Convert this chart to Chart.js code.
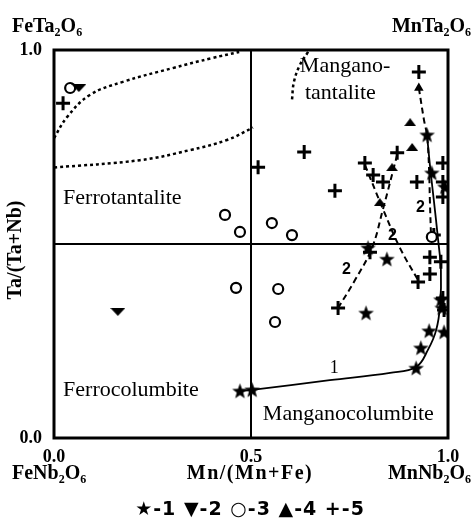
<!DOCTYPE html>
<html>
<head>
<meta charset="utf-8">
<script src="https://cdn.jsdelivr.net/npm/chart.js@4"></script>
<style>
  body { margin: 0; background: #fff; }
</style>
</head>
<body>
<canvas id="c" width="471" height="522"></canvas>
<script>
// points: [Mn/(Mn+Fe), Ta/(Ta+Nb)]
const stars = [
  [0.472, 0.121], [0.503, 0.124], [0.797, 0.490], [0.845, 0.461], [0.792, 0.322],
  [0.919, 0.180], [0.931, 0.232], [0.952, 0.276], [0.990, 0.273], [0.985, 0.335],
  [0.982, 0.356], [0.947, 0.781], [0.959, 0.683], [0.992, 0.647]
];
const downTris = [[0.063, 0.902], [0.162, 0.325]];
const circles = [
  [0.041, 0.902], [0.434, 0.575], [0.472, 0.531], [0.553, 0.554], [0.604, 0.523],
  [0.462, 0.387], [0.569, 0.384], [0.561, 0.299], [0.959, 0.518]
];
const upTris = [[0.904, 0.814], [0.909, 0.750], [0.858, 0.698], [0.827, 0.608]];
const crosses = [
  [0.023, 0.863], [0.518, 0.698], [0.635, 0.737], [0.713, 0.637], [0.926, 0.943],
  [0.871, 0.735], [0.789, 0.709], [0.810, 0.678], [0.835, 0.660], [0.921, 0.660],
  [0.987, 0.709], [0.987, 0.660], [0.987, 0.621], [0.802, 0.479], [0.721, 0.335],
  [0.924, 0.402], [0.954, 0.466], [0.954, 0.423], [0.982, 0.454], [0.987, 0.361],
  [0.990, 0.330], [0.964, 0.523]
];

// trend lines
const line1 = [
  [0.472, 0.121], [0.503, 0.124], [0.700, 0.149], [0.853, 0.168], [0.919, 0.183],
  [0.949, 0.227], [0.970, 0.278], [0.980, 0.343], [0.982, 0.433], [0.975, 0.510],
  [0.964, 0.613], [0.954, 0.704], [0.947, 0.778]
];
const line2right = [[0.926, 0.902], [0.939, 0.820], [0.947, 0.778], [0.952, 0.691], [0.954, 0.613], [0.957, 0.518]];
const line2a = [[0.789, 0.704], [0.835, 0.590], [0.878, 0.490], [0.924, 0.407]];
const line2b = [[0.871, 0.730], [0.835, 0.590], [0.807, 0.490], [0.764, 0.407], [0.721, 0.335]];

// field boundaries
const ellipseTop = [[0, 0.773], [0.033, 0.827], [0.091, 0.884], [0.175, 0.918], [0.30, 0.953], [0.40, 0.979], [0.47, 0.995]];
const ellipseBottom = [[0, 0.697], [0.218, 0.716], [0.345, 0.742], [0.439, 0.768], [0.505, 0.800]];
const mnTaCurve = [[0.645, 0.995], [0.624, 0.961], [0.609, 0.918], [0.604, 0.871]];
const midX = [[0.5, 0], [0.5, 1]];
const midY = [[0, 0.5], [1, 0.5]];

const xTicks = [0, 0.5, 1];
const yTicks = [0, 1];

const pts = arr => arr.map(([x, y]) => ({ x, y }));

// custom marker shapes
function marker(w, h, draw) {
  const c = document.createElement('canvas');
  c.width = w; c.height = h;
  const g = c.getContext('2d');
  g.fillStyle = '#000';
  draw(g, w, h);
  return c;
}
const starImg = marker(17, 17, (g) => {
  g.beginPath();
  for (let i = 0; i < 10; i++) {
    const r = i % 2 ? 3.4 : 8.2;
    const a = -Math.PI / 2 + i * Math.PI / 5;
    g.lineTo(8.5 + r * Math.cos(a), 9 + r * Math.sin(a));
  }
  g.closePath(); g.fill();
});
const downImg = marker(15, 8, (g) => {
  g.beginPath(); g.moveTo(0, 0); g.lineTo(15, 0); g.lineTo(7.5, 8); g.closePath(); g.fill();
});
const upImg = marker(12, 8, (g) => {
  g.beginPath(); g.moveTo(0, 8); g.lineTo(12, 8); g.lineTo(6, 0); g.closePath(); g.fill();
});

const lineSet = (data, extra) => Object.assign({
  type: 'line', data: pts(data), borderColor: '#000', borderWidth: 2,
  pointRadius: 0, fill: false, tension: 0.4, order: 10
}, extra);

const serif = '"Liberation Serif", "Times New Roman", serif';

function subText(ctx, parts, x, y, align, spacing) {
  const big = 'bold 20px ' + serif, small = 'bold 12px ' + serif;
  ctx.letterSpacing = (spacing || 0) + 'px';
  let w = 0;
  parts.forEach(([t, s]) => { ctx.font = s ? small : big; w += ctx.measureText(t).width; });
  let cx = align === 'right' ? x - w : align === 'center' ? x - w / 2 : x;
  ctx.textAlign = 'left';
  ctx.textBaseline = 'middle';
  parts.forEach(([t, s]) => {
    ctx.font = s ? small : big;
    ctx.fillText(t, cx, s ? y + 6 : y);
    cx += ctx.measureText(t).width;
  });
  ctx.letterSpacing = '0px';
}

const textPlugin = {
  id: 'texts',
  afterDraw(chart) {
    const { ctx, chartArea: a, scales: { x, y } } = chart;
    ctx.save();
    ctx.strokeStyle = '#000';
    ctx.lineWidth = 3;
    ctx.strokeRect(a.left, a.top, a.right - a.left, a.bottom - a.top);

    ctx.fillStyle = '#000';
    ctx.textBaseline = 'middle';
    ctx.textAlign = 'left';
    ctx.font = '22px ' + serif;
    const at = (t, vx, vy) => ctx.fillText(t, x.getPixelForValue(vx), y.getPixelForValue(vy));
    at('Mangano-', 0.624, 0.959);
    at('tantalite', 0.637, 0.889);
    at('Ferrotantalite', 0.023, 0.619);
    at('Ferrocolumbite', 0.023, 0.124);
    at('Manganocolumbite', 0.530, 0.062);
    ctx.font = '18px ' + serif;
    at('1', 0.700, 0.180);
    ctx.font = 'bold 16px "Liberation Sans", Arial, sans-serif';
    at('2', 0.731, 0.433);
    at('2', 0.848, 0.521);
    at('2', 0.919, 0.593);

    subText(ctx, [['FeTa', 0], ['2', 1], ['O', 0], ['6', 1]], 12, 27, 'left');
    subText(ctx, [['MnTa', 0], ['2', 1], ['O', 0], ['6', 1]], 471, 27, 'right');
    subText(ctx, [['FeNb', 0], ['2', 1], ['O', 0], ['6', 1]], 12, 474, 'left');
    subText(ctx, [['MnNb', 0], ['2', 1], ['O', 0], ['6', 1]], 471, 474, 'right');
    subText(ctx, [['Mn/(Mn+Fe)', 0]], 250, 474, 'center', 1.5);
    ctx.save();
    ctx.translate(16, 250);
    ctx.rotate(-Math.PI / 2);
    subText(ctx, [['Ta/(Ta+Nb)', 0]], 0, 0, 'center');
    ctx.restore();

    ctx.font = 'bold 19px "DejaVu Sans", sans-serif';
    ctx.letterSpacing = '1px';
    ctx.textAlign = 'center';
    ctx.fillText('\u2605-1 \u25BC-2 \u25CB-3 \u25B2-4 +-5', 250, 510);
    ctx.restore();
  }
};

const tickFont = { family: serif, size: 18, weight: 'bold' };
const noGrid = { display: false, drawTicks: false, tickLength: 0 };

new Chart(document.getElementById('c'), {
  type: 'scatter',
  data: {
    datasets: [
      { label: '1', data: pts(stars), pointStyle: starImg, pointRadius: 8, order: 1 },
      { label: '2', data: pts(downTris), pointStyle: downImg, pointRadius: 7, order: 1 },
      { label: '3', data: pts(circles), pointStyle: 'circle', pointRadius: 5, borderWidth: 2.2,
        borderColor: '#000', backgroundColor: '#fff', order: 1 },
      { label: '4', data: pts(upTris), pointStyle: upImg, pointRadius: 6, order: 1 },
      { label: '5', data: pts(crosses), pointStyle: 'cross', pointRadius: 7, borderWidth: 3,
        borderColor: '#000', order: 1 },
      lineSet(line1, { borderWidth: 1.8 }),
      lineSet(line2right, { borderDash: [6, 4], pointRadius: [3.5, 0, 0, 0, 0, 0],
        pointStyle: 'triangle', backgroundColor: '#000', pointBorderColor: '#000' }),
      lineSet(line2a, { borderDash: [6, 4] }),
      lineSet(line2b, { borderDash: [6, 4] }),
      lineSet(ellipseTop, { borderDash: [3, 3], borderWidth: 2.5 }),
      lineSet(ellipseBottom, { borderDash: [3, 3], borderWidth: 2.5 }),
      lineSet(mnTaCurve, { borderDash: [3, 3], borderWidth: 2.5 }),
      lineSet(midX, { tension: 0 }),
      lineSet(midY, { tension: 0 })
    ]
  },
  options: {
    responsive: false,
    animation: false,
    devicePixelRatio: 1,
    layout: { padding: { left: 0, top: 50, right: 23, bottom: 0 } },
    plugins: { legend: { display: false }, tooltip: { enabled: false } },
    scales: {
      x: {
        type: 'linear', min: 0, max: 1,
        afterBuildTicks: s => { s.ticks = xTicks.map(v => ({ value: v })); },
        afterFit: s => { s.height = 84; },
        grid: noGrid, border: { display: false },
        ticks: { font: tickFont, color: '#000', padding: 9, maxRotation: 0, callback: v => v.toFixed(1) }
      },
      y: {
        type: 'linear', min: 0, max: 1,
        afterBuildTicks: s => { s.ticks = yTicks.map(v => ({ value: v })); },
        afterFit: s => { s.width = 54; },
        grid: noGrid, border: { display: false },
        ticks: { font: tickFont, color: '#000', padding: 12, callback: v => v.toFixed(1) }
      }
    }
  },
  plugins: [textPlugin]
});
</script>
</body>
</html>
